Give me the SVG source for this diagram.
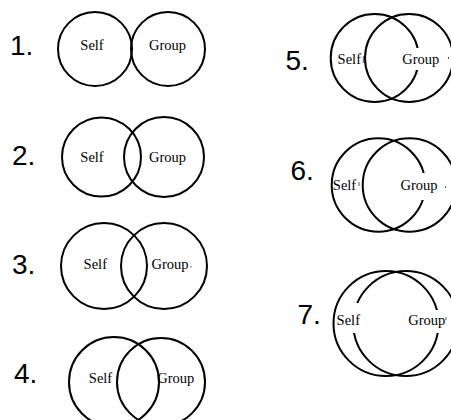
<svg xmlns="http://www.w3.org/2000/svg" width="451" height="420" viewBox="0 0 451 420">
<style>
.c{fill:none;stroke:#000;stroke-width:2}
.n{font-family:"Liberation Sans",Arial,sans-serif;font-size:28px;fill:#000}
.t{font-family:"Liberation Serif","Times New Roman",serif;font-size:14.5px;fill:#000;text-anchor:middle}
.m{stroke:#555;stroke-width:1}
.bg{fill:#fff}
</style>
<rect width="451" height="420" fill="#fff"/>
<g id="d1">
<text class="n" x="10" y="55">1.</text>
<g id="d1-self"><circle class="c" cx="95" cy="49" r="37"/><text class="t" x="92" y="50">Self</text></g>
<g id="d1-group"><circle class="c" cx="168" cy="49" r="37"/><text class="t" x="167.5" y="50">Group</text></g>
</g>
<g id="d2">
<text class="n" x="12" y="165">2.</text>
<g id="d2-self"><circle class="c" cx="101.5" cy="157" r="39.5"/><text class="t" x="92" y="161.5">Self</text></g>
<g id="d2-group"><circle class="c" cx="164" cy="157" r="40"/><text class="t" x="167.5" y="161.5">Group</text></g>
</g>
<g id="d3">
<text class="n" x="12" y="274">3.</text>
<g id="d3-self"><circle class="c" cx="104" cy="266" r="43"/><text class="t" x="95.3" y="269">Self</text></g>
<g id="d3-group"><circle class="c" cx="164" cy="266" r="43"/><text class="t" x="170" y="269">Group</text><line class="m" x1="191" y1="266" x2="191" y2="267.5"/></g>
</g>
<g id="d4">
<text class="n" x="14" y="383">4.</text>
<g id="d4-self"><circle class="c" cx="114" cy="382" r="45"/><text class="t" x="100.5" y="383">Self</text></g>
<g id="d4-group"><circle class="c" cx="161" cy="382" r="44"/><text class="t" x="175.8" y="383">Group</text></g>
</g>
<g id="d5">
<text class="n" x="285.5" y="70">5.</text>
<g id="d5-self"><circle class="c" cx="374.7" cy="58" r="44"/></g>
<g id="d5-group"><circle class="c" cx="409" cy="58" r="44"/></g>
<g id="d5-self-label"><text class="t" x="349.3" y="64.3">Self</text><line class="m" x1="363.3" y1="56" x2="363.3" y2="63"/></g>
<g id="d5-group-label"><rect class="bg" x="400" y="48" width="41" height="22"/><text class="t" x="420.8" y="64.3">Group</text><line class="m" x1="448.5" y1="57" x2="448.5" y2="59"/></g>
</g>
<g id="d6">
<text class="n" x="290.5" y="180">6.</text>
<g id="d6-self"><circle class="c" cx="378.4" cy="185" r="46.7"/></g>
<g id="d6-group"><circle class="c" cx="409.4" cy="185" r="46.7"/></g>
<g id="d6-self-label"><text class="t" x="344.5" y="190">Self</text><line class="m" x1="359" y1="182" x2="359" y2="186"/></g>
<g id="d6-group-label"><rect class="bg" x="399" y="173" width="42" height="27"/><text class="t" x="419" y="190">Group</text><line class="m" x1="445.5" y1="186" x2="445.5" y2="188"/></g>
</g>
<g id="d7">
<text class="n" x="297.5" y="324">7.</text>
<g id="d7-self"><circle class="c" cx="386" cy="323.5" r="52.5"/></g>
<g id="d7-group"><circle class="c" cx="405.8" cy="323.5" r="52.5"/></g>
<g id="d7-self-label"><rect class="bg" x="349" y="303" width="13" height="30"/><text class="t" x="348.3" y="325">Self</text></g>
<g id="d7-group-label"><rect class="bg" x="407" y="310" width="38" height="23"/><text class="t" x="426.7" y="325">Group</text><line class="m" x1="446" y1="317" x2="446" y2="320"/></g>
</g>
</svg>
